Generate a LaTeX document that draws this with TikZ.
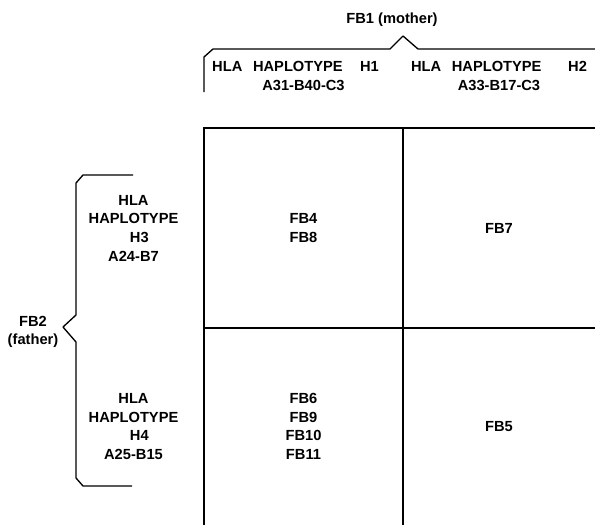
\documentclass[tikz,border=0pt]{standalone}
\usepackage{fontspec}
\setmainfont{Liberation Sans}
\usetikzlibrary{
matrix,
calc,
positioning
}

\begin{document}
\begin{tikzpicture}
[x=0.75pt, y=-0.75pt,
every node/.style={font=\fontsize{11}{14}\selectfont\bfseries},
block_head/.style ={rectangle, draw=none, fill=none, inner sep=0pt, outer sep=0pt, align=center},
block_cell/.style ={block_head},
label_parent/.style ={rectangle, draw=none, inner sep=0pt, align=center},
line_grid/.style ={draw, line width=1.5pt, line join=miter},
line_brace/.style ={draw, line width=1pt, line join=round}]

\useasboundingbox (0,0) rectangle (595,525);

\matrix (table) [anchor=north west, inner sep=0pt, outer sep=0pt, column sep=0pt, row sep=0pt, ampersand replacement=\&,
column 1/.style={nodes={text width=105.75pt}},
column 2/.style={nodes={text width=149.25pt}},
column 3/.style={nodes={text width=144pt}},
row 1/.style={nodes={minimum height=78pt}},
row 2/.style={nodes={minimum height=150pt}},
row 3/.style={nodes={minimum height=147.75pt}}] at (63,24)
{
% row 1
\node [block_head] (11) {}; \&
\node [block_head] (12) {HLA\hspace{8pt}HAPLOTYPE\hspace{13pt}H1\rule{12pt}{0pt}\\A31-B40-C3}; \&
\node [block_head] (13) {HLA\hspace{8pt}HAPLOTYPE\hspace{20pt}H2\\A33-B17-C3}; \\

% row 2
\node [block_head] (21) {HLA\\HAPLOTYPE\\\hspace*{.8em}H3\\A24-B7}; \&
\node [block_cell] (22) {FB4\\FB8}; \&
\node [block_cell] (23) {FB7}; \\

% row 3
\node [block_head] (31) {HLA\\HAPLOTYPE\\\hspace*{.8em}H4\\A25-B15}; \&
\node [block_cell] (32) {FB6\\FB9\\FB10\\FB11}; \&
\node [block_cell] (33) {FB5}; \\
};

%Raster
 \draw [line_grid] (32.south west) -- (22.north west) -- (23.north east);
 \draw [line_grid] (32.north west) -- (33.north east);
 \draw [line_grid] (23.north west) -- (33.south west);

%Eltern
 \node [label_parent] (fb1) at (392,20) {FB1 (mother)};
 \node [label_parent] (fb2) at (33,332) {FB2\\(father)};

%Klammer oben
 \draw [line_brace] (204,92) -- (204,57) -- (213,49) -- (390,49) -- (403,36) -- (418,49) -- (595,49);
%Klammer links
 \draw [line_brace] (133,175) -- (83,175) -- (76,183) -- (76,315) -- (63,327) -- (76,342) -- (76,478) -- (83,486) -- (132,486);

\end{tikzpicture}
\end{document}
